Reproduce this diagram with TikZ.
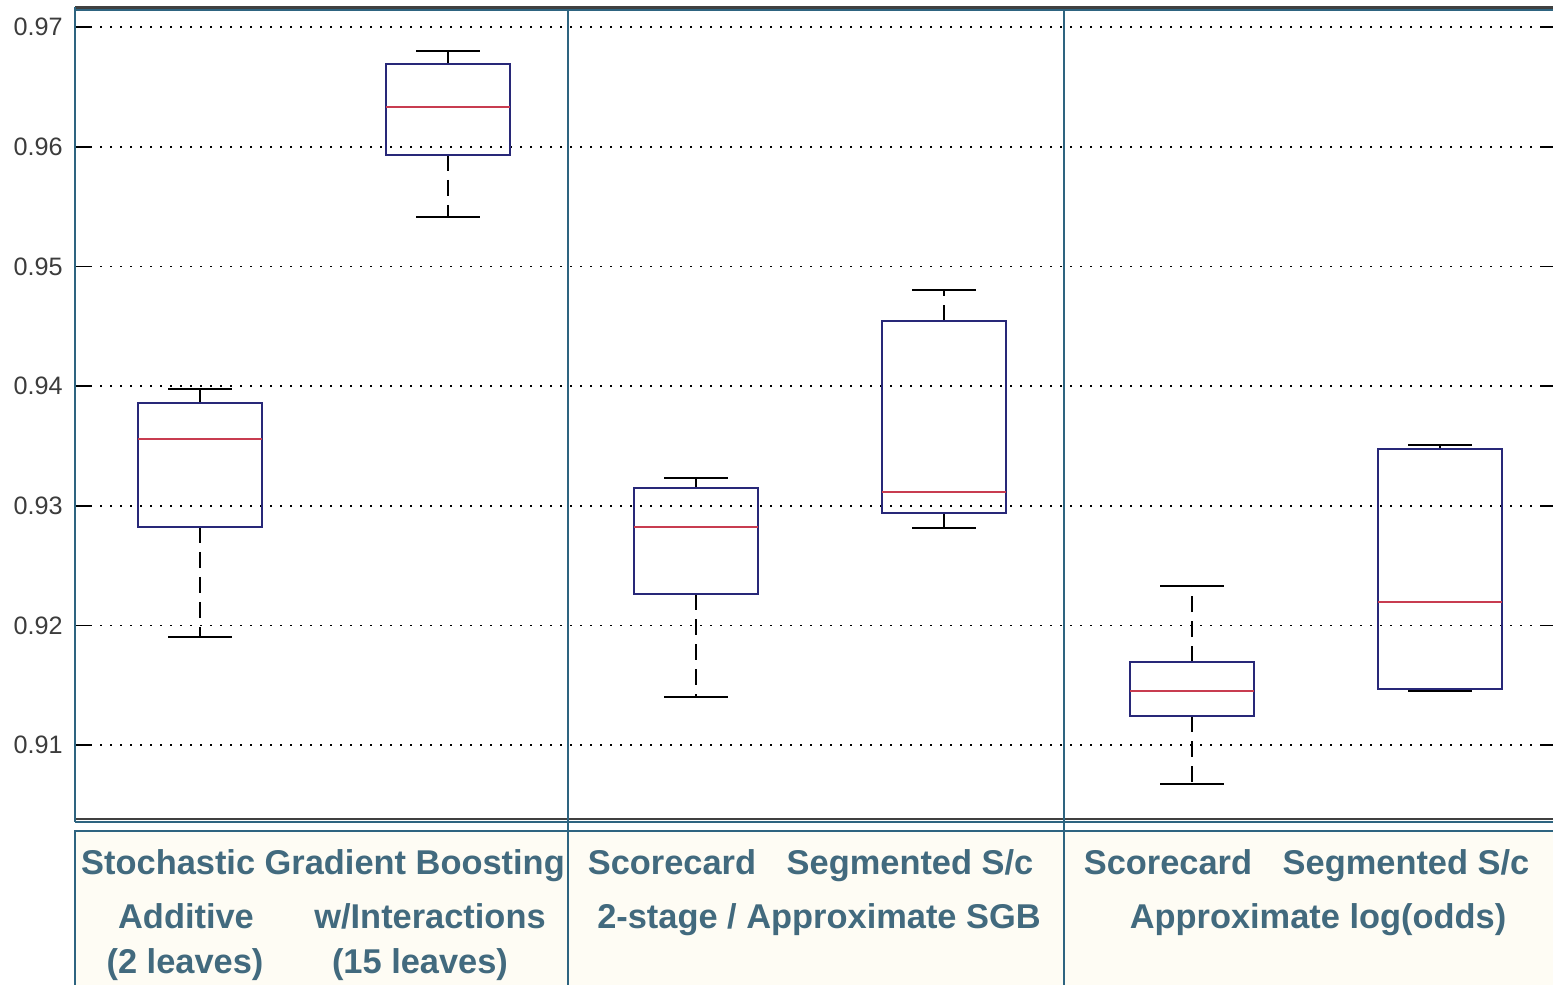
\documentclass[tikz,border=0pt]{standalone}
\usepackage{fontspec}
\setmainfont{Liberation Sans}
\definecolor{frameteal}{RGB}{46,100,128}
\definecolor{boxblue}{RGB}{40,40,120}
\definecolor{medred}{RGB}{200,60,80}
\definecolor{labelteal}{RGB}{66,106,126}
\definecolor{panelcream}{RGB}{254,252,244}
\definecolor{ticklabel}{RGB}{60,60,60}
\tikzset{
  gridline/.style={black, line width=0.8pt, dash pattern=on 0.8pt off 4.2pt},
  whisker/.style={black, line width=0.8pt, dash pattern=on 8pt off 4.5pt},
  whiskercap/.style={black, line width=0.8pt},
  quartbox/.style={boxblue, line width=0.8pt},
  medianline/.style={medred, line width=0.8pt},
  sepline/.style={frameteal, line width=0.8pt},
  ticktext/.style={text=ticklabel, font=\fontsize{12.6}{14}\selectfont, anchor=east, inner sep=0pt},
  grouplabel/.style={text=labelteal, font=\bfseries\fontsize{17.2}{20}\selectfont, anchor=base, inner sep=0pt}
}
\begin{document}
\begin{tikzpicture}[x=0.5pt, y=-0.5pt]
\useasboundingbox (0,0) rectangle (1553,985);
% plot area and label panel
\fill[white] (75,9) rectangle (1553,821);
\draw[frameteal, fill=panelcream, line width=0.8pt] (75,831) rectangle (1560,995);
% grid lines, ticks and tick labels
\foreach \d in {10,20,...,70} {
  \pgfmathsetmacro\py{27+(70-\d)*11.97}
  \pgfmathsetmacro\val{int(90+\d/10)}
  \draw[gridline] (90,\py) -- (1540,\py);
  \draw[black, line width=0.8pt] (75,\py) -- (90,\py);
  \draw[black, line width=0.8pt] (1540,\py) -- (1553,\py);
  \node[ticktext] (tick\d) at (63,\py) {0.\val};
}
% frame lines
\draw[black!75, line width=1.2pt] (75,7.5) -- (1553,7.5);
\draw[frameteal, line width=0.8pt] (75,10) -- (1553,10);
\draw[black!75, line width=1.2pt] (74,819) -- (1553,819);
\draw[frameteal, line width=0.8pt] (75,822) -- (1553,822);
\draw[frameteal, line width=1.2pt] (75,7) -- (75,822);
\foreach \sx in {568,1064} \draw[sepline] (\sx,9) -- (\sx,985);
% boxplots: index / lower / q1 / median / q3 / upper (values in 1/1000 above 0.9)
\foreach \i/\lo/\qa/\med/\qb/\hi in {0/19.04/28.23/35.58/38.59/39.76,
    1/54.13/59.31/63.32/66.91/68.00,
    2/14.03/22.63/28.23/31.49/32.32,
    3/28.15/29.40/31.15/45.44/48.03,
    4/6.76/12.44/14.53/16.95/23.30,
    5/14.53/14.70/21.96/34.75/35.08} {
  \pgfmathsetmacro\cx{200+248*\i}
  \pgfmathsetmacro\ylo{27+(70-\lo)*11.97}
  \pgfmathsetmacro\yqa{27+(70-\qa)*11.97}
  \pgfmathsetmacro\ymed{27+(70-\med)*11.97}
  \pgfmathsetmacro\yqb{27+(70-\qb)*11.97}
  \pgfmathsetmacro\yhi{27+(70-\hi)*11.97}
  \draw[whisker] (\cx,\yqa) -- (\cx,\ylo);
  \draw[whisker] (\cx,\yqb) -- (\cx,\yhi);
  \draw[whiskercap] (\cx-32,\ylo) -- (\cx+32,\ylo);
  \draw[whiskercap] (\cx-32,\yhi) -- (\cx+32,\yhi);
  \draw[quartbox] (\cx-62,\yqa) rectangle (\cx+62,\yqb);
  \draw[medianline] (\cx-62,\ymed) -- (\cx+62,\ymed);
}
% group labels
\node[grouplabel] (sgb) at (323,874) {Stochastic Gradient Boosting};
\node[grouplabel] (additive) at (186,928) {Additive};
\node[grouplabel] (interact) at (430,928) {w/Interactions};
\node[grouplabel] (twoleaf) at (185,973) {(2 leaves)};
\node[grouplabel] (fifteenleaf) at (420,973) {(15 leaves)};
\node[grouplabel] (scoreA) at (672,874) {Scorecard};
\node[grouplabel] (segA) at (910,874) {Segmented S/c};
\node[grouplabel] (approxsgb) at (819,928) {2-stage / Approximate SGB};
\node[grouplabel] (scoreB) at (1168,874) {Scorecard};
\node[grouplabel] (segB) at (1406,874) {Segmented S/c};
\node[grouplabel] (approxlog) at (1318,928) {Approximate log(odds)};
\end{tikzpicture}
\end{document}
